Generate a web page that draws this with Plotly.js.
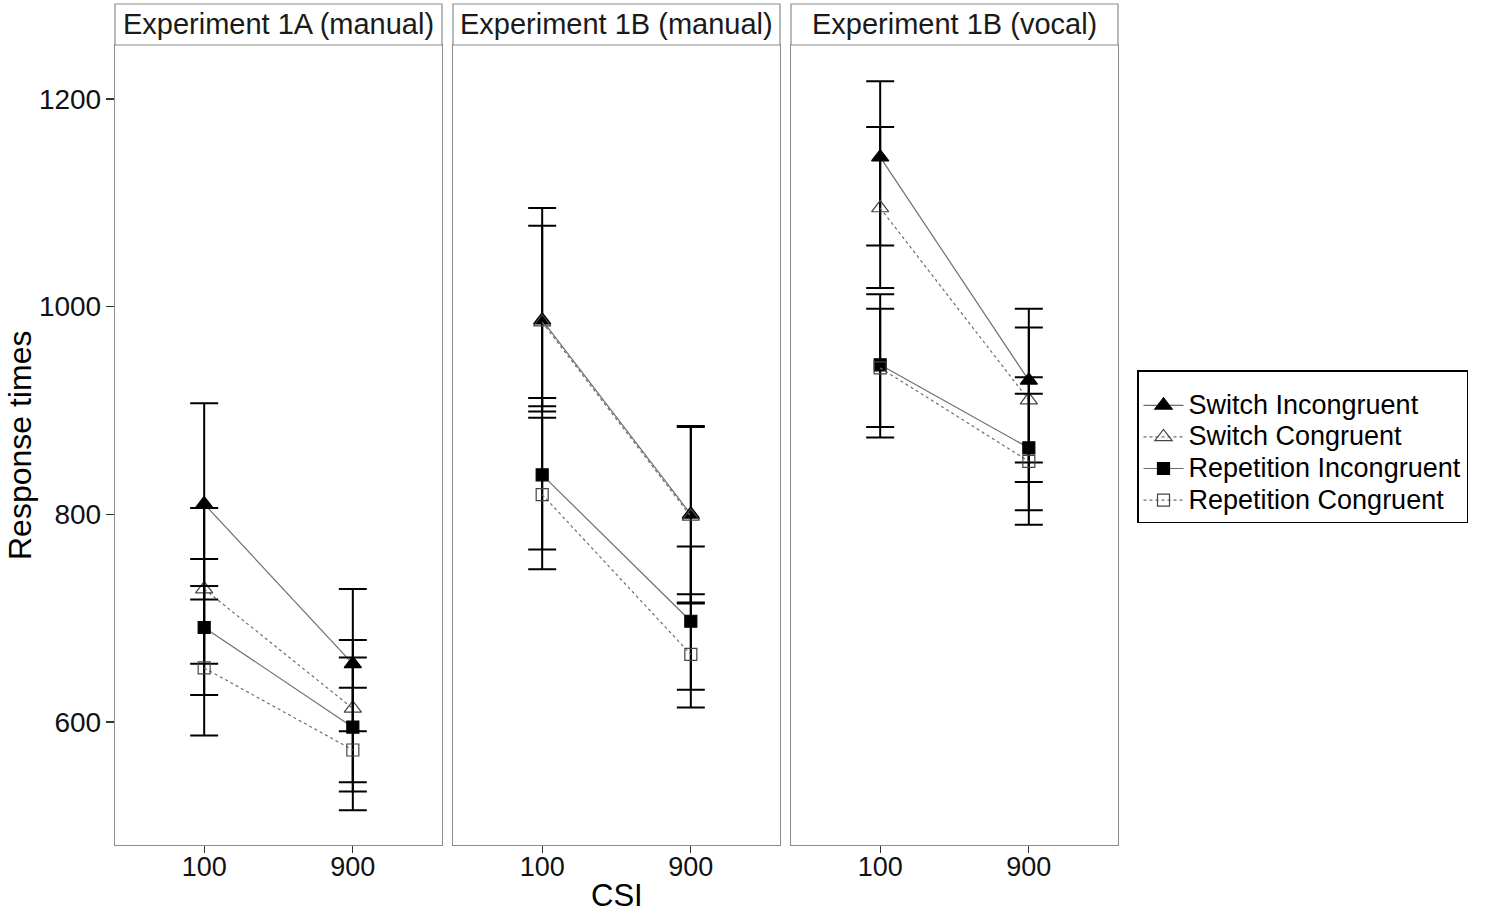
<!DOCTYPE html>
<html>
<head>
<meta charset="utf-8">
<script src="https://cdn.plot.ly/plotly-3.0.1.min.js"></script>
<style>html,body{margin:0;padding:0;background:#fff;}#chart{width:1503px;height:912px;}</style>
</head>
<body>
<div id="chart"></div>
<script>
// ---- data ----
const csi = ['100', '900'];
const panelTitles = ['Experiment 1A (manual)', 'Experiment 1B (manual)', 'Experiment 1B (vocal)'];
const conditions = ['Switch Incongruent', 'Switch Congruent', 'Repetition Incongruent', 'Repetition Congruent'];

// means per panel [csi100, csi900]
const switchIncMean = [[810, 656], [987, 800], [1144, 929]];
const switchConMean = [[728, 613], [985, 798], [1095, 910]];
const repIncMean    = [[691, 595], [838, 697], [944, 864]];
const repConMean    = [[652, 573], [819, 665], [941, 851]];

// upper and lower error-bar limits per panel [csi100, csi900]
const switchIncUpper = [[907, 728], [1095, 885], [1217, 998]];
const switchIncLower = [[718, 591], [899, 715], [1059, 850]];
const switchConUpper = [[806, 679], [1078, 884], [1173, 980]];
const switchConLower = [[656, 542], [904, 714], [1018, 831]];
const repIncUpper    = [[757, 662], [912, 769], [1012, 932]];
const repIncLower    = [[626, 533], [766, 631], [874, 804]];
const repConUpper    = [[731, 633], [893, 723], [998, 916]];
const repConLower    = [[587, 515], [747, 614], [884, 790]];

const yTicks = [600, 800, 1000, 1200];

// ---- build ----
const series = [
  {name: conditions[0], mean: switchIncMean, up: switchIncUpper, lo: switchIncLower, symbol: 'triangle-up', dash: 'solid', open: false},
  {name: conditions[1], mean: switchConMean, up: switchConUpper, lo: switchConLower, symbol: 'triangle-up-open', dash: 'dot', open: true},
  {name: conditions[2], mean: repIncMean, up: repIncUpper, lo: repIncLower, symbol: 'square', dash: 'solid', open: false},
  {name: conditions[3], mean: repConMean, up: repConUpper, lo: repConLower, symbol: 'square-open', dash: 'dot', open: true}
];

const W = 1503, H = 912;
const panelPx = [[115, 442], [453, 780], [791, 1118]];
const plotTop = 45, plotBottom = 845, stripTop = 4;
const FONT = 'Liberation Sans, Arial, Helvetica, sans-serif';
const LEGEND_TEXT_PX = 27;

const traces = [];
panelTitles.forEach((pt, p) => {
  const xa = p === 0 ? 'x' : 'x' + (p + 1);
  const ya = p === 0 ? 'y' : 'y' + (p + 1);
  series.forEach(s => {
    const m = s.mean[p];
    traces.push({
      type: 'scatter', mode: 'lines+markers',
      x: csi, y: m, xaxis: xa, yaxis: ya,
      name: '<span style="font-size:' + LEGEND_TEXT_PX + 'px">' + s.name + '</span>',
      legendgroup: s.name, showlegend: p === 0,
      line: {color: '#6e6e6e', width: 1.2, dash: s.dash},
      marker: {symbol: s.symbol, size: s.symbol.startsWith('triangle') ? 15 : 12,
               color: s.open ? '#444' : '#000', line: {color: s.open ? '#444' : '#000', width: 1.2}},
      error_y: {type: 'data', symmetric: false,
                array: s.up[p].map((u, i) => u - m[i]),
                arrayminus: m.map((v, i) => v - s.lo[p][i]),
                color: '#000', thickness: 2, width: 14},
      cliponaxis: false
    });
  });
});

const layout = {
  width: W, height: H,
  margin: {l: 0, r: 0, t: 0, b: 0},
  paper_bgcolor: '#fff', plot_bgcolor: '#fff',
  font: {family: FONT, color: '#000'},
  showlegend: true,
  legend: {
    x: 1137 / W, y: 1 - 370 / H, xanchor: 'left', yanchor: 'top',
    bordercolor: '#000', borderwidth: 1.5, bgcolor: '#fff',
    font: {family: FONT, size: 22, color: '#000'},
    tracegroupgap: 0, itemwidth: 40,
    title: {text: ' ', font: {size: 10}}
  },
  annotations: [],
  shapes: []
};

const yDomain = [1 - plotBottom / H, 1 - plotTop / H];
panelPx.forEach((px, p) => {
  const xk = p === 0 ? 'xaxis' : 'xaxis' + (p + 1);
  const yk = p === 0 ? 'yaxis' : 'yaxis' + (p + 1);
  layout[xk] = {
    domain: [px[0] / W, px[1] / W], anchor: p === 0 ? 'y' : 'y' + (p + 1),
    type: 'category', range: [-0.6, 1.6], fixedrange: true,
    showgrid: false, zeroline: false,
    showline: true, mirror: true, linecolor: '#8c8c8c', linewidth: 1.2,
    ticks: 'outside', ticklen: 7, tickcolor: '#333', tickwidth: 1.2,
    ticklabelstandoff: -10,
    tickfont: {family: FONT, size: 27, color: '#111'}
  };
  layout[yk] = {
    domain: yDomain, anchor: p === 0 ? 'x' : 'x' + (p + 1),
    range: [481.5, 1252], fixedrange: true,
    tickvals: yTicks, ticktext: yTicks.map(String),
    showgrid: false, zeroline: false,
    showline: true, mirror: true, linecolor: '#8c8c8c', linewidth: 1.2,
    ticks: p === 0 ? 'outside' : '', ticklen: 8, tickcolor: '#333', tickwidth: 1.2,
    ticklabelstandoff: -1,
    showticklabels: p === 0,
    tickfont: {family: FONT, size: 28, color: '#111'}
  };
  // strip box
  layout.shapes.push({
    type: 'rect', xref: 'paper', yref: 'paper',
    x0: px[0] / W, x1: px[1] / W, y0: 1 - plotTop / H, y1: 1 - stripTop / H,
    line: {color: '#8c8c8c', width: 1.2}, fillcolor: '#fff'
  });
  layout.annotations.push({
    xref: 'paper', yref: 'paper', x: (px[0] + px[1]) / 2 / W, y: 1 - (plotTop + stripTop) / 2 / H,
    xanchor: 'center', yanchor: 'middle', showarrow: false,
    text: panelTitles[p], font: {family: FONT, size: 29, color: '#1a1a1a'}
  });
});

layout.annotations.push({
  xref: 'paper', yref: 'paper', x: (panelPx[0][0] + panelPx[2][1]) / 2 / W, y: 1 - 895 / H,
  xanchor: 'center', yanchor: 'middle', showarrow: false,
  text: 'CSI', font: {family: FONT, size: 31, color: '#000'}
});
layout.annotations.push({
  xref: 'paper', yref: 'paper', x: 20 / W, y: 1 - 446 / H,
  xanchor: 'center', yanchor: 'middle', showarrow: false, textangle: -90,
  text: 'Response times', font: {family: FONT, size: 32, color: '#000'}
});

Plotly.newPlot('chart', traces, layout, {displayModeBar: false, staticPlot: true});
</script>
</body>
</html>
